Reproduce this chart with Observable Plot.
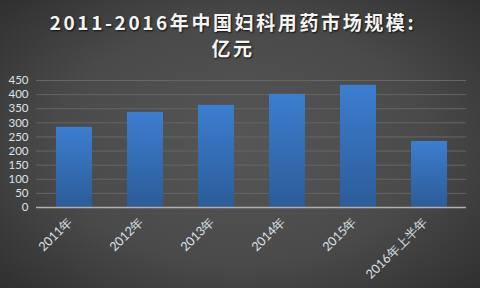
<!DOCTYPE html>
<html>
<head>
<meta charset="utf-8">
<script src="https://cdn.jsdelivr.net/npm/d3@7"></script>
<script src="https://cdn.jsdelivr.net/npm/@observablehq/plot@0.6"></script>
<style>
  html, body { margin: 0; padding: 0; }
  body {
    width: 480px; height: 288px; overflow: hidden;
    background: radial-gradient(ellipse 70% 75% at 50% 50%, #565656 0%, #4a4a4a 55%, #2e2e2e 100%);
  }
  #title {
    height: 68px; box-sizing: border-box; padding-top: 9px; padding-right: 14px;
    text-align: center; color: #f4f4f4;
    font-family: "Noto Sans CJK SC", sans-serif; font-weight: bold;
    font-size: 19px; line-height: 26px; letter-spacing: 2.6px;
    text-shadow: 1px 1px 2px rgba(0,0,0,0.8);
  }
  #chart svg { display: block; }
</style>
</head>
<body>
<div id="title">2011-2016年中国妇科用药市场规模:<br>亿元</div>
<div id="chart"></div>
<script>
// Market size by year, in 100 million yuan
const years = ["2011年", "2012年", "2013年", "2014年", "2015年", "2016年上半年"];
const sizes = [284, 337, 362, 401, 433, 234];
const yTicks = [0, 50, 100, 150, 200, 250, 300, 350, 400, 450];

const data = years.map((year, i) => ({year, size: sizes[i]}));

const plot = Plot.plot({
  width: 480,
  height: 220,
  marginTop: 12,
  marginBottom: 81,
  marginLeft: 36,
  marginRight: 14,
  style: {background: "transparent", color: "#dde3ec", fontFamily: "Lato, sans-serif", fontSize: "11.5px"},
  x: {domain: years, paddingInner: 0.5, paddingOuter: 0.25, label: null},
  y: {domain: [0, 450], ticks: yTicks, label: null, tickSize: 0, tickPadding: 8},
  marks: [
    Plot.gridY(yTicks.filter(d => d > 0), {stroke: "#666666", strokeOpacity: 1, strokeWidth: 1}),
    Plot.barY(data, {x: "year", y: "size", fill: "url(#barGrad)", style: "filter: drop-shadow(1px 1px 1.5px rgba(0,0,0,0.5))"}),
    Plot.ruleY([0], {stroke: "#b0b0b0", strokeWidth: 1.5}),
    Plot.axisX({tickSize: 0, tickRotate: -45, tickPadding: 12, dx: -4, fontSize: 12.5, label: null})
  ]
});

// vertical gradient for the bars
const defs = d3.select(plot).insert("defs", ":first-child");
const grad = defs.append("linearGradient").attr("id", "barGrad")
  .attr("x1", 0).attr("y1", 0).attr("x2", 0).attr("y2", 1);
grad.append("stop").attr("offset", "0%").attr("stop-color", "#3c7ed0");
grad.append("stop").attr("offset", "100%").attr("stop-color", "#2c5c98");

document.getElementById("chart").appendChild(plot);
</script>
</body>
</html>
